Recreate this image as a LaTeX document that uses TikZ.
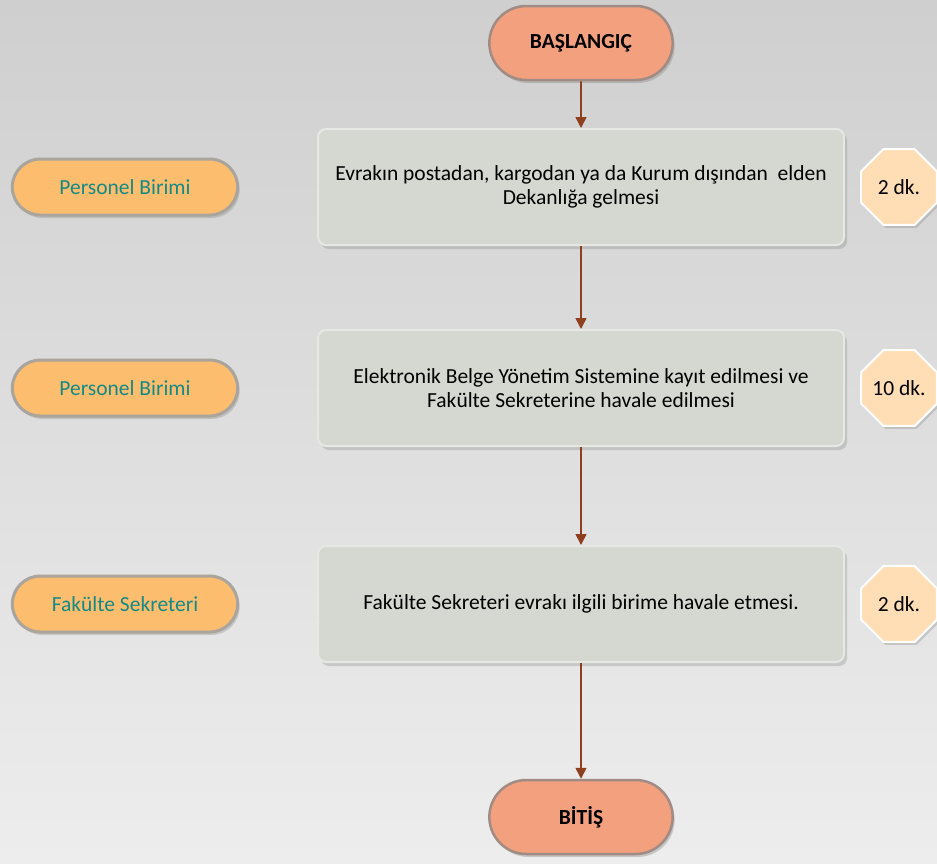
\documentclass[tikz,border=0pt]{standalone}
\usepackage{fontspec}
\setmainfont{Carlito}
\usetikzlibrary{shapes.geometric,shapes.misc,shadows,arrows.meta}
\definecolor{bgtop}{HTML}{CFCFCF}
\definecolor{bgbot}{HTML}{EDEDED}
\definecolor{boxfill}{HTML}{D5D8D1}
\definecolor{boxline}{HTML}{E6E8E3}
\definecolor{termfill}{HTML}{F2A07E}
\definecolor{termline}{HTML}{A08C84}
\definecolor{ovalfill}{HTML}{FDBD6E}
\definecolor{ovalline}{HTML}{A9A49C}
\definecolor{ovaltext}{HTML}{138A86}
\definecolor{octfill}{HTML}{FFDDB5}
\definecolor{arrowc}{HTML}{8E3F1E}
\begin{document}
\begin{tikzpicture}[x=1pt,y=-1pt,
  every node/.style={font=\fontsize{21.5}{24}\selectfont},
  terminal/.style={rounded rectangle, draw=termline, line width=2.5pt, fill=termfill,
     minimum width=190pt, minimum height=74pt, font=\fontsize{21.5}{24}\selectfont\bfseries,
     drop shadow={shadow xshift=2pt,shadow yshift=-3pt,opacity=0.35}},
  procbox/.style={rectangle, rounded corners=8pt, draw=boxline, line width=2pt, fill=boxfill,
     minimum width=526pt, minimum height=116pt, align=center,
     drop shadow={shadow xshift=3pt,shadow yshift=-4pt,opacity=0.3}},
  actor/.style={rounded rectangle, draw=ovalline, line width=3pt, fill=ovalfill,
     minimum width=232pt, minimum height=56pt, text=ovaltext,
     drop shadow={shadow xshift=2pt,shadow yshift=-3pt,opacity=0.3}},
  timebox/.style={regular polygon, regular polygon sides=8,
     draw=white, line width=2pt, fill=octfill, minimum size=82pt, inner sep=0pt,
     drop shadow={shadow xshift=2pt,shadow yshift=-3pt,opacity=0.3}},
  flow/.style={draw=arrowc, line width=1.6pt, -{Triangle[length=11pt,width=11pt]}}
]
\useasboundingbox (0,0) rectangle (937,863);
\shade[top color=bgtop, bottom color=bgbot] (0,0) rectangle (937,863);
\node[terminal] (start) at (581,43) {BAŞLANGIÇ};
\node[procbox] (p1) at (581,187) {Evrakın postadan, kargodan ya da Kurum dışından\ \ elden\\Dekanlığa gelmesi};
\node[procbox] (p2) at (581,388) {Elektronik Belge Yönetim Sistemine kayıt edilmesi ve\\Fakülte Sekreterine havale edilmesi};
\node[procbox] (p3) at (581,604) {Fakülte Sekreteri evrakı ilgili birime havale etmesi.};
\node[terminal] (end) at (581,817) {BİTİŞ};
\node[actor] (a1) at (125,187) {Personel Birimi};
\node[actor] (a2) at (125,388) {Personel Birimi};
\node[actor] (a3) at (125,604) {Fakülte Sekreteri};
\node[timebox] (t1) at (899,187) {2 dk.};
\node[timebox] (t2) at (899,388) {10 dk.};
\node[timebox] (t3) at (899,604) {2 dk.};
\draw[flow] (start) -- (p1);
\draw[flow] (p1) -- (p2);
\draw[flow] (p2) -- (p3);
\draw[flow] (p3) -- (end);
\end{tikzpicture}
\end{document}
